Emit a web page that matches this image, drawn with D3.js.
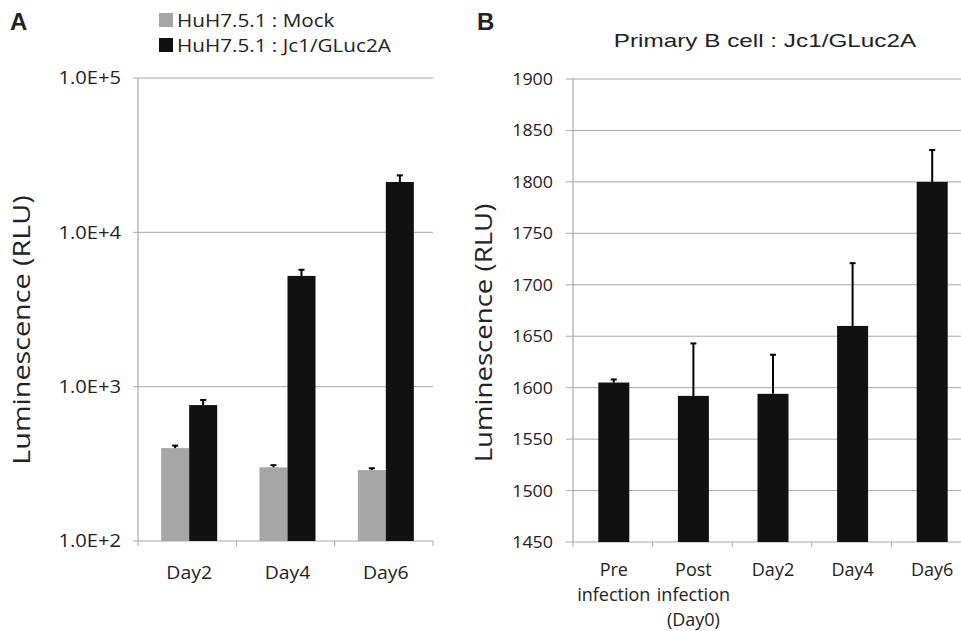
<!DOCTYPE html>
<html>
<head>
<meta charset="utf-8">
<script src="https://cdn.jsdelivr.net/npm/d3@7"></script>
<style>
  body { margin: 0; background: #fff; }
  svg { display: block; }
</style>
</head>
<body>
<svg id="chart" width="961" height="631"></svg>
<script>
// panel A data
const daysA = ["Day2", "Day4", "Day6"];
const seriesA = ["HuH7.5.1 : Mock", "HuH7.5.1 : Jc1/GLuc2A"];
const mockVals = [400, 300, 288];
const mockErr = [15, 10, 8];
const jc1Vals = [760, 5220, 21200];
const jc1Err = [60, 500, 2200];
const ticksA = [100, 1000, 10000, 100000];
const tickLabelsA = ["1.0E+2", "1.0E+3", "1.0E+4", "1.0E+5"];

// panel B data
const catsB = [["Pre", "infection"], ["Post", "infection", "(Day0)"], ["Day2"], ["Day4"], ["Day6"]];
const valsB = [1605, 1592, 1594, 1660, 1800];
const errB = [3, 51, 38, 61, 31];
const ticksB = [1450, 1500, 1550, 1600, 1650, 1700, 1750, 1800, 1850, 1900];

const svg = d3.select("#chart");
const calibri = "'Open Sans', 'Noto Sans', sans-serif";
const arial = "'Liberation Sans', Arial, sans-serif";
const gridColor = "#a8a8a8";
const colors = ["#a6a6a6", "#111111"];

// the original figure text is stretched sideways, so squeeze it in with a scale
function label(g, x, y, txt, opt) {
  const o = Object.assign({size: 18, sx: 1.1, anchor: "start", font: calibri, rot: 0, weight: "normal"}, opt);
  return g.append("text")
      .attr("transform", `translate(${x},${y})` + (o.rot ? ` rotate(${o.rot})` : "") + ` scale(${o.sx},1)`)
      .attr("text-anchor", o.anchor)
      .attr("font-family", o.font)
      .attr("font-size", o.size)
      .attr("font-weight", o.weight)
      .attr("dy", o.dy || null)
      .attr("fill", "#222")
      .text(txt);
}

// ---------- panel A ----------
const yA = d3.scaleLog().domain([100, 100000]).range([541, 78]);
const xA = d3.scaleBand().domain(daysA).range([138, 433]);
const groupW = 56;
const xA1 = d3.scaleBand().domain(seriesA).range([0, groupW]);

const gA = svg.append("g");
gA.selectAll(".gridA").data(ticksA).enter().append("line")
    .attr("x1", 133).attr("x2", 433)
    .attr("y1", d => yA(d)).attr("y2", d => yA(d))
    .attr("stroke", gridColor).attr("stroke-width", 1);
gA.append("line").attr("x1", 138).attr("x2", 138).attr("y1", 78).attr("y2", 541)
    .attr("stroke", gridColor).attr("stroke-width", 1.2);
gA.selectAll(".xtA").data(d3.range(daysA.length + 1)).enter().append("line")
    .attr("x1", d => 138 + d * xA.bandwidth()).attr("x2", d => 138 + d * xA.bandwidth())
    .attr("y1", 541).attr("y2", 546).attr("stroke", gridColor);

ticksA.forEach((t, i) => label(gA, 121, yA(t), tickLabelsA[i], {anchor: "end", dy: "0.35em", sx: 1.12}));
daysA.forEach(d => label(gA, xA(d) + xA.bandwidth() / 2 + 2, 579, d, {anchor: "middle", sx: 1.08}));

const barsA = [mockVals, jc1Vals];
const errsA = [mockErr, jc1Err];
seriesA.forEach((s, si) => {
  const off = (xA.bandwidth() - groupW) / 2 + 2;
  gA.selectAll(".bar" + si).data(daysA).enter().append("rect")
      .attr("x", d => xA(d) + off + xA1(s))
      .attr("width", xA1.bandwidth())
      .attr("y", (d, i) => yA(barsA[si][i]))
      .attr("height", (d, i) => yA(100) - yA(barsA[si][i]))
      .attr("fill", colors[si]);
  daysA.forEach((d, i) => {
    const cx = xA(d) + off + xA1(s) + xA1.bandwidth() / 2;
    const top = yA(barsA[si][i] + errsA[si][i]);
    gA.append("line").attr("x1", cx).attr("x2", cx)
        .attr("y1", yA(barsA[si][i])).attr("y2", top)
        .attr("stroke", "#000").attr("stroke-width", 2);
    gA.append("line").attr("x1", cx - 3).attr("x2", cx + 3)
        .attr("y1", top).attr("y2", top)
        .attr("stroke", "#000").attr("stroke-width", 2);
  });
});

label(gA, 30, 330, "Luminescence  (RLU)", {anchor: "middle", rot: -90, size: 23, sx: 1.25});

// legend
seriesA.forEach((s, i) => {
  gA.append("rect").attr("x", 159).attr("y", 13 + i * 25).attr("width", 14).attr("height", 14)
      .attr("fill", colors[i]);
  label(gA, 177, 27 + i * 25, s, {sx: 1.15});
});

label(svg, 10, 30, "A", {font: arial, weight: "bold", size: 24, sx: 1});

// ---------- panel B ----------
const yB = d3.scaleLinear().domain([1450, 1900]).range([542, 79]);
const xB = d3.scaleBand().domain(catsB.map((c, i) => i)).range([573, 971]);
const barW = 31;
const gB = svg.append("g");

gB.selectAll(".gridB").data(ticksB).enter().append("line")
    .attr("x1", 566).attr("x2", 971)
    .attr("y1", d => yB(d)).attr("y2", d => yB(d))
    .attr("stroke", gridColor).attr("stroke-width", 1);
gB.append("line").attr("x1", 573).attr("x2", 573).attr("y1", 79).attr("y2", 542)
    .attr("stroke", gridColor).attr("stroke-width", 1.2);
gB.selectAll(".xtB").data(d3.range(6)).enter().append("line")
    .attr("x1", d => 573 + d * xB.bandwidth()).attr("x2", d => 573 + d * xB.bandwidth())
    .attr("y1", 542).attr("y2", 547).attr("stroke", gridColor);

ticksB.forEach(t => label(gB, 553, yB(t), t, {anchor: "end", dy: "0.35em", size: 17, sx: 1.05}));

catsB.forEach((lines, i) => {
  lines.forEach((t, j) => label(gB, xB(i) + xB.bandwidth() / 2 + 1, 576 + j * 25, t, {anchor: "middle", sx: 1}));
});

gB.selectAll(".barB").data(valsB).enter().append("rect")
    .attr("x", (d, i) => xB(i) + (xB.bandwidth() - barW) / 2 + 1)
    .attr("width", barW)
    .attr("y", d => yB(d))
    .attr("height", d => yB(1450) - yB(d))
    .attr("fill", "#111");
valsB.forEach((v, i) => {
  const cx = xB(i) + xB.bandwidth() / 2 + 1;
  const top = yB(v + errB[i]);
  gB.append("line").attr("x1", cx).attr("x2", cx).attr("y1", yB(v)).attr("y2", top)
      .attr("stroke", "#000").attr("stroke-width", 2);
  gB.append("line").attr("x1", cx - 3).attr("x2", cx + 3).attr("y1", top).attr("y2", top)
      .attr("stroke", "#000").attr("stroke-width", 2);
});

label(gB, 492, 333, "Luminescence  (RLU)", {anchor: "middle", rot: -90, size: 23, sx: 1.2});
label(gB, 765, 47, "Primary B cell : Jc1/GLuc2A", {anchor: "middle", font: arial, size: 18, sx: 1.35});

label(svg, 477, 30, "B", {font: arial, weight: "bold", size: 24, sx: 1});
</script>
</body>
</html>
